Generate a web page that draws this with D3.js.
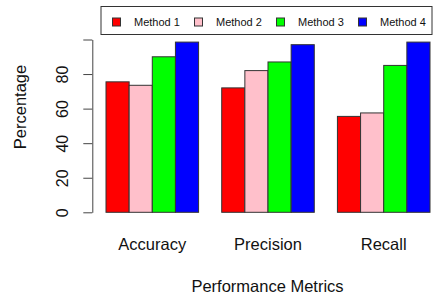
<!DOCTYPE html>
<html>
<head>
<meta charset="utf-8">
<script src="https://cdn.jsdelivr.net/npm/d3@7"></script>
<style>
  body { margin: 0; background: #fff; }
  svg { display: block; font-family: "Liberation Sans", Arial, Helvetica, sans-serif; }
</style>
</head>
<body>
<svg id="chart"></svg>
<script>
// data
const metrics = ["Accuracy", "Precision", "Recall"];
const methods = ["Method 1", "Method 2", "Method 3", "Method 4"];
const methodColors = ["#ff0000", "#ffc0cb", "#00ff00", "#0000ff"];
const method1 = [75.5, 72, 55.5];
const method2 = [73.5, 82, 57.5];
const method3 = [90, 87, 85];
const method4 = [98.5, 97, 98.5];
const yTicks = [0, 20, 40, 60, 80, 100];

const series = [method1, method2, method3, method4];

const width = 434, height = 295;
const svg = d3.select("#chart").attr("width", width).attr("height", height);

// scales
const xGroup = d3.scaleBand()
    .domain(metrics)
    .range([106, 430])
    .paddingInner(0.2)
    .paddingOuter(0);

const xMethod = d3.scaleBand()
    .domain(methods)
    .range([0, xGroup.bandwidth()])
    .padding(0);

const y = d3.scaleLinear()
    .domain([0, 100])
    .range([212.3, 39.5]);

const color = d3.scaleOrdinal().domain(methods).range(methodColors);

// bars
const rows = [];
metrics.forEach((m, i) => {
    methods.forEach((meth, j) => {
        rows.push({metric: m, method: meth, value: series[j][i]});
    });
});

svg.append("g")
    .attr("class", "bars")
    .selectAll("rect")
    .data(rows).enter()
    .append("rect")
    .attr("x", d => xGroup(d.metric) + xMethod(d.method))
    .attr("y", d => y(d.value))
    .attr("width", xMethod.bandwidth())
    .attr("height", d => y(0) - y(d.value))
    .attr("fill", d => color(d.method))
    .attr("stroke", "#333")
    .attr("stroke-width", 1);

// y axis
const yAxis = svg.append("g")
    .attr("transform", "translate(92.3,0)")
    .call(d3.axisLeft(y)
        .tickValues(yTicks)
        .tickSize(9)
        .tickSizeOuter(0)
        .tickFormat(d => d === 100 ? "" : d));

yAxis.select(".domain").attr("stroke", "#444");
yAxis.selectAll(".tick line").attr("stroke", "#444");
yAxis.selectAll(".tick text")
    .attr("x", 0)
    .attr("dy", 0)
    .attr("text-anchor", "middle")
    .attr("transform", "translate(-24,0) rotate(-90)")
    .attr("font-size", 16)
    .attr("font-family", "Liberation Sans, Arial, sans-serif")
    .attr("fill", "#111");

// category labels
svg.append("g")
    .selectAll("text")
    .data(metrics).enter()
    .append("text")
    .attr("x", d => xGroup(d) + xGroup.bandwidth() / 2)
    .attr("y", 250)
    .attr("text-anchor", "middle")
    .attr("font-size", 16.5)
    .attr("fill", "#111")
    .text(d => d);

// axis titles
svg.append("text")
    .attr("x", 267.5)
    .attr("y", 291.5)
    .attr("text-anchor", "middle")
    .attr("font-size", 16.5)
    .attr("fill", "#111")
    .text("Performance Metrics");

svg.append("text")
    .attr("transform", "translate(25.5,107) rotate(-90)")
    .attr("text-anchor", "middle")
    .attr("font-size", 16.5)
    .attr("fill", "#111")
    .text("Percentage");

// legend
const legend = svg.append("g").attr("class", "legend");
legend.append("rect")
    .attr("x", 101)
    .attr("y", 6.5)
    .attr("width", 331)
    .attr("height", 28)
    .attr("fill", "#fff")
    .attr("stroke", "#333")
    .attr("stroke-width", 1);

const item = legend.selectAll("g.item")
    .data(methods).enter()
    .append("g")
    .attr("class", "item")
    .attr("transform", (d, i) => "translate(" + (112.5 + i * 82) + ",0)");

item.append("rect")
    .attr("x", 0)
    .attr("y", 18)
    .attr("width", 8)
    .attr("height", 8)
    .attr("fill", d => color(d))
    .attr("stroke", "#333")
    .attr("stroke-width", 1);

item.append("text")
    .attr("x", 21.5)
    .attr("y", 26)
    .attr("font-size", 11)
    .attr("fill", "#111")
    .text(d => d);
</script>
</body>
</html>
